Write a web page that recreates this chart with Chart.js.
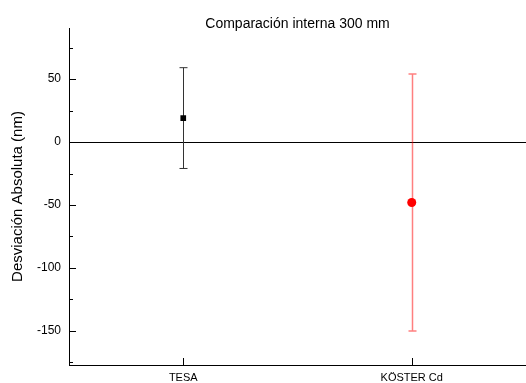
<!DOCTYPE html>
<html>
<head>
<meta charset="utf-8">
<script src="https://cdn.jsdelivr.net/npm/chart.js@4"></script>
<style>
  html, body { margin: 0; padding: 0; background: #fff; }
  #wrap { width: 526px; height: 383px; }
</style>
</head>
<body>
<div id="wrap"><canvas id="errChart"></canvas></div>
<script>
// data
var chartTitle = 'Comparación interna 300 mm';
var categories = ['TESA', 'KÖSTER Cd'];
var values = [19, -48];
var errPlus = [40, 102];
var errMinus = [40, 102];
var yMajorTicks = [50, 0, -50, -100, -150];
var yMinorTicks = [75, 25, -25, -75, -125, -175];

var markerColors = ['#000000', '#ff0000'];
var barColors = ['#333333', 'rgba(255,0,0,0.5)'];
var barWidths = [1, 1.5];
var fontFam = 'Liberation Sans, Arial, sans-serif';

var ctx = document.getElementById('errChart').getContext('2d');

// error bars via scale pixels
var errorBars = {
    id: 'errorBars',
    beforeDatasetsDraw: function(chart) {
        var c = chart.ctx, xs = chart.scales.x, ys = chart.scales.y;
        c.save();
        for (var i = 0; i < values.length; i++) {
            var px = Math.round(xs.getPixelForValue(i)) + 0.5;
            var top = ys.getPixelForValue(values[i] + errPlus[i]);
            var bot = ys.getPixelForValue(values[i] - errMinus[i]);
            c.strokeStyle = barColors[i];
            c.lineWidth = barWidths[i];
            c.beginPath();
            c.moveTo(px, top); c.lineTo(px, bot);
            c.moveTo(px - 4, top); c.lineTo(px + 4, top);
            c.moveTo(px - 4, bot); c.lineTo(px + 4, bot);
            c.stroke();
        }
        c.restore();
    }
};

// inward tick marks + title centred on the plot area
var innerTicks = {
    id: 'innerTicks',
    afterDraw: function(chart) {
        var c = chart.ctx, xs = chart.scales.x, ys = chart.scales.y, a = chart.chartArea;
        c.save();
        c.strokeStyle = '#000';
        c.lineWidth = 1;
        c.beginPath();
        yMajorTicks.forEach(function(v) {
            var py = Math.round(ys.getPixelForValue(v)) + 0.5;
            c.moveTo(a.left, py); c.lineTo(a.left + 7, py);
        });
        yMinorTicks.forEach(function(v) {
            var py = Math.round(ys.getPixelForValue(v)) + 0.5;
            c.moveTo(a.left, py); c.lineTo(a.left + 4, py);
        });
        categories.forEach(function(cat, i) {
            var px = Math.round(xs.getPixelForValue(i)) + 0.5;
            c.moveTo(px, a.bottom); c.lineTo(px, a.bottom - 7);
        });
        c.stroke();

        c.fillStyle = '#000';
        c.font = '14px ' + fontFam;
        c.textAlign = 'center';
        c.textBaseline = 'alphabetic';
        c.fillText(chartTitle, (a.left + a.right) / 2, 28);
        c.restore();
    }
};

new Chart(ctx, {
    type: 'line',
    data: {
        labels: categories,
        datasets: [{
            data: values,
            showLine: false,
            pointStyle: ['rect', 'circle'],
            pointRadius: [4, 4.5],
            pointBackgroundColor: markerColors,
            pointBorderColor: markerColors,
            pointBorderWidth: 0
        }]
    },
    options: {
        responsive: true,
        maintainAspectRatio: false,
        animation: false,
        layout: { autoPadding: false, padding: { left: 0, right: 0, top: 28, bottom: 0 } },
        plugins: {
            legend: { display: false },
            tooltip: { enabled: false },
            title: { display: false }
        },
        scales: {
            x: {
                type: 'category',
                offset: true,
                grid: { display: false, drawTicks: false },
                border: { display: true, color: '#000', width: 1 },
                ticks: {
                    color: '#000',
                    padding: 6,
                    maxRotation: 0,
                    font: { family: fontFam, size: 11 }
                },
                afterFit: function(s) { s.height = 18; }
            },
            y: {
                min: -177,
                max: 90.5,
                afterBuildTicks: function(s) {
                    s.ticks = yMajorTicks.map(function(v) { return { value: v }; });
                },
                grid: {
                    drawTicks: false,
                    color: function(c) { return c.tick && c.tick.value === 0 ? '#000' : 'rgba(0,0,0,0)'; },
                    lineWidth: 1
                },
                border: { display: true, color: '#000', width: 1 },
                ticks: {
                    color: '#000',
                    padding: 8,
                    font: { family: fontFam, size: 12 }
                },
                title: {
                    display: true,
                    text: 'Desviación Absoluta (nm)',
                    color: '#000',
                    padding: { top: 9, bottom: 0 },
                    font: { family: fontFam, size: 15 }
                },
                afterFit: function(s) { s.width = 69; }
            }
        }
    },
    plugins: [errorBars, innerTicks]
});
</script>
</body>
</html>
